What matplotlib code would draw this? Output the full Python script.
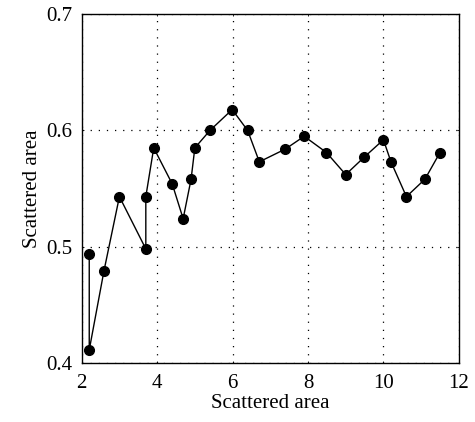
import matplotlib
matplotlib.use("Agg")
import matplotlib.pyplot as plt

# values
x_vals = [2.20, 2.20, 2.59, 3.00, 3.70, 3.70, 3.91, 4.40, 4.69, 4.90, 5.00, 5.40,
          5.99, 6.40, 6.71, 7.40, 7.90, 8.49, 9.00, 9.49, 10.00, 10.20, 10.61, 11.10, 11.50]
y_vals = [0.494, 0.411, 0.479, 0.543, 0.498, 0.543, 0.585, 0.554, 0.524, 0.558, 0.585, 0.600,
          0.618, 0.600, 0.573, 0.584, 0.595, 0.581, 0.562, 0.577, 0.592, 0.573, 0.543, 0.558, 0.581]
x_ticks = [2, 4, 6, 8, 10, 12]
y_ticks = [0.4, 0.5, 0.6, 0.7]

plt.rcParams['font.family'] = ['Liberation Serif', 'DejaVu Serif']

fig = plt.figure(figsize=(4.75, 4.22), dpi=100)
ax = fig.add_axes([0.172, 0.1405, 0.794, 0.8255])

ax.plot(x_vals, y_vals, color='black', linewidth=1.0, marker='o',
        markersize=7, markerfacecolor='black', markeredgecolor='black')

ax.set_xlim(2, 12)
ax.set_ylim(0.4, 0.7)
ax.set_xticks(x_ticks)
ax.set_yticks(y_ticks)
ax.set_xticklabels([str(t) for t in x_ticks])
ax.set_yticklabels([f"{t:.1f}" for t in y_ticks])

ax.grid(True, color='black', linestyle=(0, (1, 5.5)), linewidth=0.9)
ax.tick_params(direction='in', length=1.5, width=0.6, labelsize=15, top=True, right=True)
ax.tick_params(axis='x', pad=8)
ax.tick_params(axis='y', pad=7)
for spine in ax.spines.values():
    spine.set_linewidth(1.0)

ax.set_xlabel('Scattered area', fontsize=15, labelpad=1)
ax.set_ylabel('Scattered area', fontsize=15, labelpad=3)

fig.savefig('out.png', dpi=100)
